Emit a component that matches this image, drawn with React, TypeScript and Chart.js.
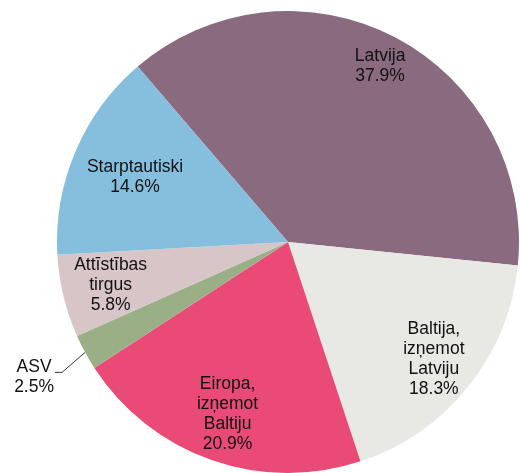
import React, { useEffect, useRef } from "react";
import { Chart, registerables } from "chart.js";

Chart.register(...registerables);

const categories: string[][] = [
  ["Latvija"],
  ["Baltija,", "izņemot", "Latviju"],
  ["Eiropa,", "izņemot", "Baltiju"],
  ["ASV"],
  ["Attīstības", "tirgus"],
  ["Starptautiski"],
];
const shares: number[] = [37.9, 18.3, 20.9, 2.5, 5.8, 14.6];
const colors: string[] = ["#8A6A7E", "#E8E8E4", "#E94B76", "#9BAF87", "#D8C5C8", "#86BFDD"];

// label placement (fraction of radius) per slice; -1 => outside with leader
const labelRadius: number[] = [0.86, 0.81, 0.79, -1, 0.79, 0.72];

const labelPlugin = {
  id: "sliceLabels",
  afterDatasetsDraw(chart: any) {
    const ctx = chart.ctx;
    const meta = chart.getDatasetMeta(0);
    ctx.save();
    ctx.font = "17.5px 'Liberation Sans', Arial, sans-serif";
    ctx.fillStyle = "#111";
    ctx.textAlign = "center";
    ctx.textBaseline = "middle";
    const lh = 20;
    meta.data.forEach((arc: any, i: number) => {
      const { x, y, startAngle, endAngle, outerRadius } = arc.getProps(
        ["x", "y", "startAngle", "endAngle", "outerRadius"],
        true
      );
      const mid = (startAngle + endAngle) / 2;
      const lines = [...categories[i], shares[i].toFixed(1) + "%"];
      let cx: number, cy: number;
      if (labelRadius[i] < 0) {
        const ex = x + Math.cos(mid) * outerRadius;
        const ey = y + Math.sin(mid) * outerRadius;
        const kx = ex - 23;
        const ky = ey + 20;
        ctx.strokeStyle = "#333";
        ctx.lineWidth = 1;
        ctx.beginPath();
        ctx.moveTo(ex, ey);
        ctx.lineTo(kx, ky);
        ctx.lineTo(kx - 7, ky);
        ctx.stroke();
        cx = kx - 28;
        cy = ky + 5;
      } else {
        const r = outerRadius * labelRadius[i];
        cx = x + Math.cos(mid) * r;
        cy = y + Math.sin(mid) * r;
      }
      const top = cy - ((lines.length - 1) * lh) / 2;
      lines.forEach((t, k) => ctx.fillText(t, cx, top + k * lh));
    });
    ctx.restore();
  },
};

export default function App() {
  const ref = useRef<HTMLCanvasElement>(null);
  useEffect(() => {
    if (!ref.current) return;
    const chart = new Chart(ref.current, {
      type: "pie",
      data: {
        labels: categories.map((c) => c.join(" ")),
        datasets: [
          {
            data: shares,
            backgroundColor: colors,
            borderWidth: 0,
            hoverOffset: 0,
            offset: 0,
          },
        ],
      },
      options: {
        responsive: false,
        animation: false,
        rotation: -40.6,
        layout: { padding: { left: 57, right: 1, top: 11, bottom: 0 } },
        plugins: {
          legend: { display: false },
          tooltip: { enabled: false },
        },
      },
      plugins: [labelPlugin],
    });
    return () => chart.destroy();
  }, []);
  return (
    <div style={{ position: "fixed", left: 0, top: 0, width: 520, height: 473, background: "#fff" }}>
      <canvas ref={ref} width={520} height={473} />
    </div>
  );
}
